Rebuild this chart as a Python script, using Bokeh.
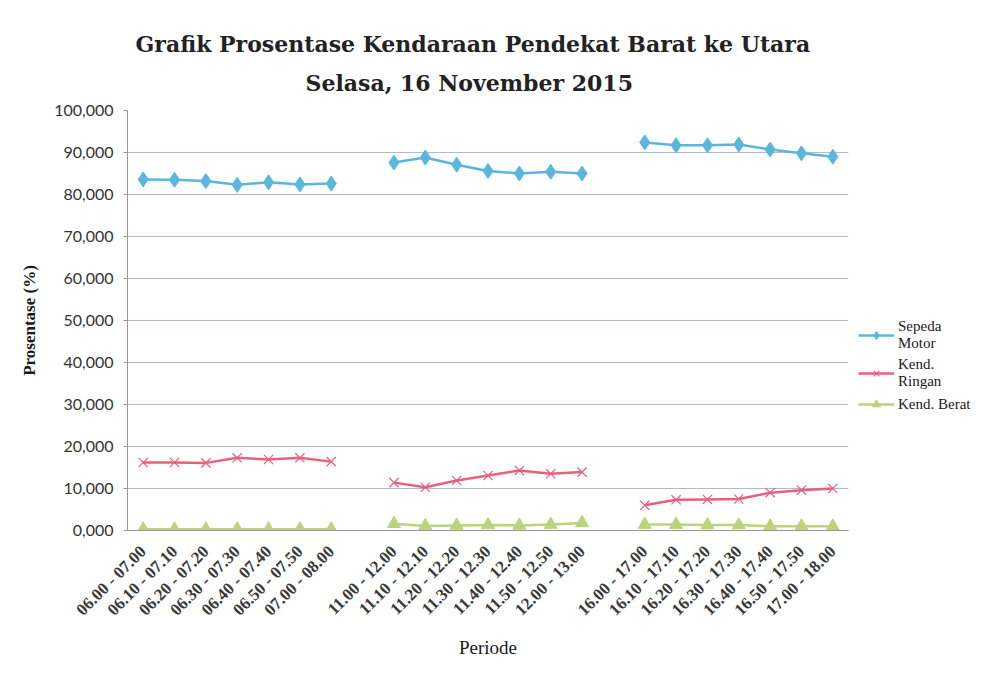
import math
from bokeh.plotting import figure
from bokeh.layouts import row
from bokeh.models import FixedTicker, Legend, LegendItem, Title
from bokeh.embed import file_html
from bokeh.resources import INLINE

title_lines = ["Grafik Prosentase Kendaraan Pendekat Barat ke Utara", "Selasa, 16 November 2015"]

groups = [
    ["06.00 - 07.00", "06.10 - 07.10", "06.20 - 07.20", "06.30 - 07.30", "06.40 - 07.40", "06.50 - 07.50", "07.00 - 08.00"],
    ["11.00 - 12.00", "11.10 - 12.10", "11.20 - 12.20", "11.30 - 12.30", "11.40 - 12.40", "11.50 - 12.50", "12.00 - 13.00"],
    ["16.00 - 17.00", "16.10 - 17.10", "16.20 - 17.20", "16.30 - 17.30", "16.40 - 17.40", "16.50 - 17.50", "17.00 - 18.00"],
]

series_names = ["Sepeda\nMotor", "Kend.\nRingan", "Kend. Berat"]

sepeda_motor = [
    [83.6, 83.5, 83.2, 82.3, 82.9, 82.4, 82.6],
    [87.6, 88.8, 87.1, 85.6, 85.0, 85.4, 85.0],
    [92.4, 91.7, 91.7, 91.9, 90.7, 89.8, 89.0],
]
kend_ringan = [
    [16.2, 16.2, 16.1, 17.3, 16.9, 17.3, 16.4],
    [11.4, 10.3, 11.9, 13.1, 14.3, 13.5, 13.9],
    [6.0, 7.3, 7.4, 7.5, 9.0, 9.6, 10.0],
]
kend_berat = [
    [0.3, 0.3, 0.3, 0.3, 0.3, 0.3, 0.3],
    [1.6, 1.1, 1.2, 1.3, 1.2, 1.4, 1.8],
    [1.4, 1.4, 1.3, 1.3, 1.0, 1.0, 1.0],
]

y_ticks = [0, 10, 20, 30, 40, 50, 60, 70, 80, 90, 100]

SERIF = "Liberation Serif"
TITLE_FONT = "DejaVu Serif"

labels = {}
def series(vals):
    out_x, out_y = [], []
    for g, gv in enumerate(vals):
        if g > 0:
            out_x.append(g * 8 - 1)
            out_y.append(float("nan"))
        for i, v in enumerate(gv):
            out_x.append(g * 8 + i)
            out_y.append(v)
    return out_x, out_y

tick_pos = []
for g, gl in enumerate(groups):
    for i, lab in enumerate(gl):
        tick_pos.append(g * 8 + i)
        labels[g * 8 + i] = lab

n_slots = len(groups) * 8 - 1

p = figure(width=855, height=695, output_backend="svg", toolbar_location=None,
           x_range=(-0.5, n_slots - 0.5), y_range=(0, 100),
           min_border_left=127, min_border_right=7, min_border_top=110, min_border_bottom=165)

p.add_layout(Title(text=title_lines[1], align="left", offset=178, text_font=TITLE_FONT, text_font_size="22px",
                   text_font_style="bold", text_color="#222222", standoff=29), "above")
p.add_layout(Title(text=title_lines[0], align="left", offset=8, text_font=TITLE_FONT, text_font_size="22px",
                   text_font_style="bold", text_color="#222222", standoff=-6), "above")

p.xgrid.grid_line_color = None
p.ygrid.grid_line_color = "#b4b8cb"
p.ygrid.grid_line_width = 1
p.ygrid.ticker = FixedTicker(ticks=y_ticks)
p.outline_line_color = None

p.yaxis.ticker = FixedTicker(ticks=y_ticks)
p.yaxis.major_label_overrides = {t: f"{t},000" for t in y_ticks}
p.yaxis.major_label_text_font = "Lato"
p.yaxis.major_label_text_font_size = "16px"
p.yaxis.major_label_text_color = "#333333"
p.yaxis.major_label_standoff = 10
p.yaxis.axis_line_color = "#999999"
p.yaxis.major_tick_line_color = "#999999"
p.yaxis.major_tick_in = 0
p.yaxis.major_tick_out = 4
p.yaxis.minor_tick_line_color = None
p.yaxis.axis_label = "Prosentase (%)"
p.yaxis.axis_label_text_font = SERIF
p.yaxis.axis_label_text_font_style = "bold"
p.yaxis.axis_label_text_font_size = "17px"
p.yaxis.axis_label_text_color = "#1a1a1a"
p.yaxis.axis_label_standoff = 12

p.xaxis.ticker = FixedTicker(ticks=tick_pos)
p.xaxis.major_label_overrides = labels
p.xaxis.major_label_orientation = math.pi / 4
p.xaxis.major_label_text_font = SERIF
p.xaxis.major_label_text_font_size = "17px"
p.xaxis.major_label_text_font_style = "bold"
p.xaxis.major_label_text_color = "#3a3a3a"
p.xaxis.major_label_standoff = 12
p.xaxis.axis_line_color = "#999999"
p.xaxis.major_tick_line_color = None
p.xaxis.minor_tick_line_color = None
p.xaxis.axis_label = "Periode"
p.xaxis.axis_label_text_font = SERIF
p.xaxis.axis_label_text_font_style = "normal"
p.xaxis.axis_label_text_font_size = "19px"
p.xaxis.axis_label_text_color = "#1a1a1a"
p.xaxis.axis_label_standoff = 8

blue = "#5ab6dd"
pink = "#e8607e"
green = "#bcd37a"

x1, y1 = series(sepeda_motor)
x2, y2 = series(kend_ringan)
x3, y3 = series(kend_berat)

p.line(x1, y1, line_color=blue, line_width=2.5)
p.scatter(x1, y1, marker="diamond", size=15, fill_color=blue, line_color=blue)
p.line(x2, y2, line_color=pink, line_width=2.5)
p.scatter(x2, y2, marker="x", size=13, line_color=pink, line_width=1.2)
p.line(x3, y3, line_color=green, line_width=2.5)
p.scatter(x3, y3, marker="triangle", size=13, fill_color=green, line_color=green)

# legend panel on the right (renderers hold no visible data; only their style is used)
lf = figure(width=145, height=695, output_backend="svg", toolbar_location=None,
            x_range=(0, 1), y_range=(0, 1), min_border=0)
lf.axis.visible = False
lf.grid.visible = False
lf.outline_line_color = None
nan = float("nan")
e = dict(x=[nan], y=[nan])
r1 = [lf.line(**e, line_color=blue, line_width=2.5),
      lf.scatter(**e, marker="diamond", size=10, fill_color=blue, line_color=blue)]
r2 = [lf.line(**e, line_color=pink, line_width=2.5),
      lf.scatter(**e, marker="x", size=12, line_color=pink, line_width=1.2)]
r3 = [lf.line(**e, line_color=green, line_width=2.5),
      lf.scatter(**e, marker="triangle", size=10, fill_color=green, line_color=green)]

legend = Legend(items=[
    LegendItem(label=series_names[0], renderers=r1),
    LegendItem(label=series_names[1], renderers=r2),
    LegendItem(label=series_names[2], renderers=r3),
], location=(3, 116))
legend.label_text_font = SERIF
legend.label_text_font_size = "15px"
legend.label_text_line_height = 1.6
legend.label_text_color = "#1a1a1a"
legend.border_line_color = None
legend.background_fill_alpha = 0
legend.spacing = 4
legend.padding = 2
legend.margin = 0
legend.glyph_width = 36
legend.label_standoff = 4
lf.add_layout(legend, "center")

open("out.html", "w").write(file_html(row(p, lf), INLINE))
